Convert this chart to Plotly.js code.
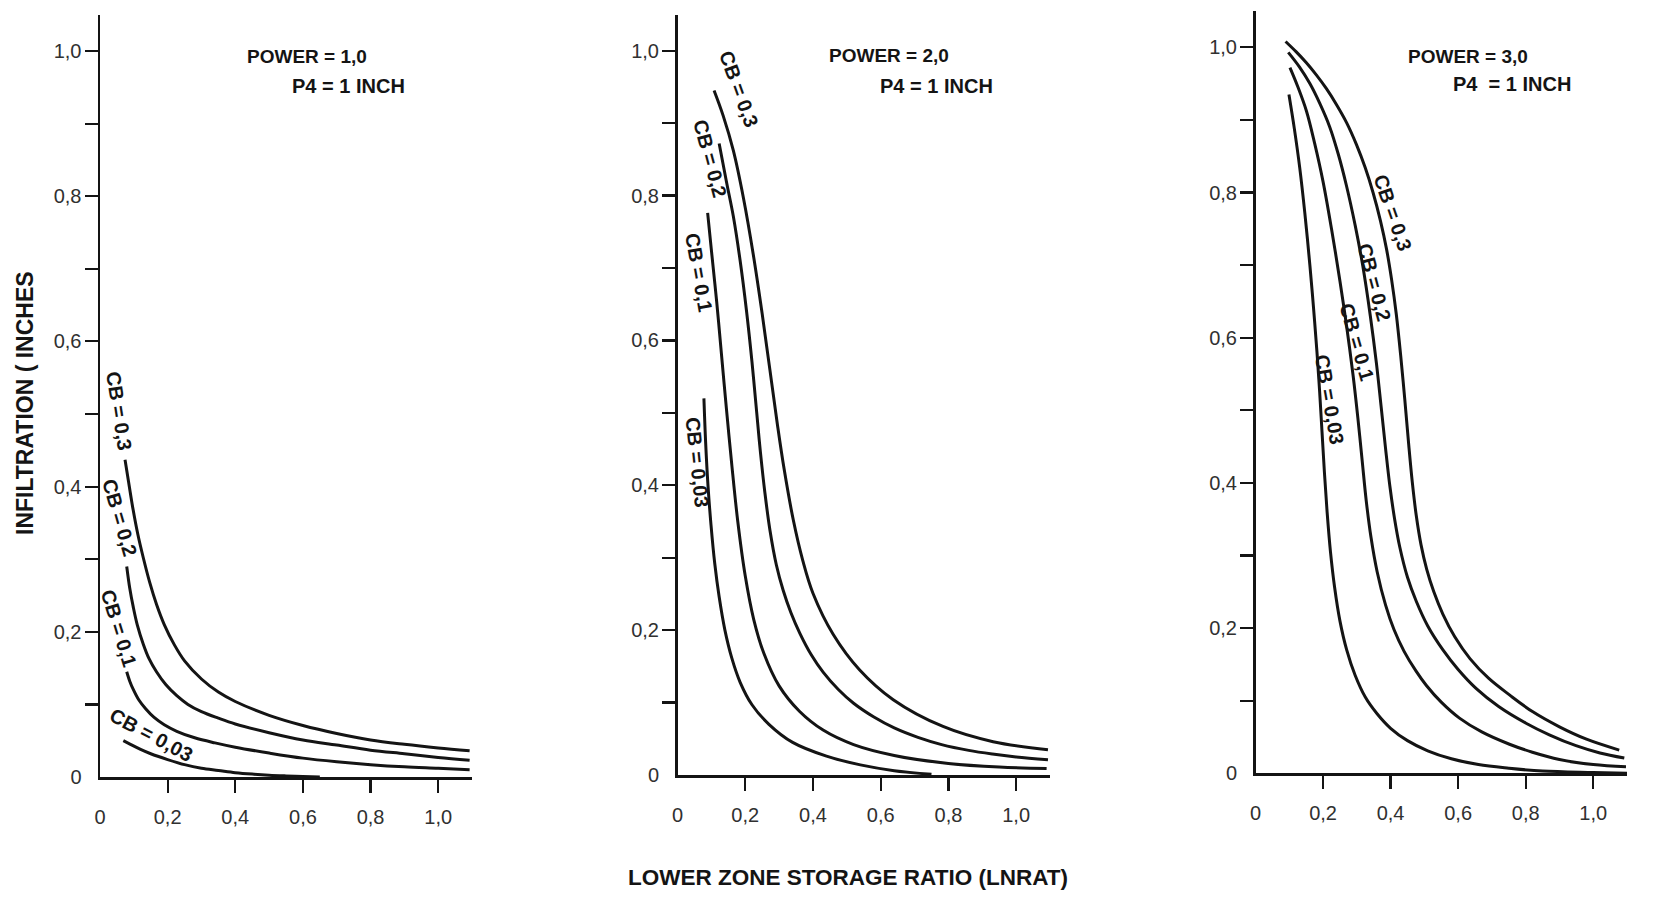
<!DOCTYPE html>
<html><head><meta charset="utf-8">
<script src="https://cdn.plot.ly/plotly-3.0.1.min.js"></script>
<style>html,body{margin:0;padding:0;background:#fff}#chart{width:1670px;height:900px}</style>
</head><body><div id="chart"></div>
<script>
// ---------- tick labels ----------
const tickVals = [0, 0.2, 0.4, 0.6, 0.8, 1.0];
const tickText = ["0", "0,2", "0,4", "0,6", "0,8", "1,0"];
const yTickMarks = [0.1, 0.2, 0.3, 0.4, 0.5, 0.6, 0.7, 0.8, 0.9, 1.0];
const xTickMarks = [0.2, 0.4, 0.6, 0.8, 1.0];

// ---------- labels ----------
const cbLabels = ["CB = 0,3", "CB = 0,2", "CB = 0,1", "CB = 0,03"];
const powerLabels = ["POWER = 1,0", "POWER = 2,0", "POWER = 3,0"];
const p4Labels = ["P4 = 1 INCH", "P4 = 1 INCH", "P4  = 1 INCH"];
const yTitle = "INFILTRATION ( INCHES";
const xTitle = "LOWER ZONE STORAGE RATIO (LNRAT)";

// ---------- POWER = 1,0 ----------
const p1_cb30_x = [0.074, 0.085, 0.098, 0.112, 0.128, 0.147, 0.167, 0.19, 0.22, 0.25, 0.3, 0.35, 0.4, 0.5, 0.6, 0.7, 0.8, 0.9, 1.0, 1.093];
const p1_cb30_y = [0.437, 0.405, 0.368, 0.334, 0.302, 0.268, 0.238, 0.21, 0.182, 0.16, 0.135, 0.117, 0.104, 0.085, 0.071, 0.06, 0.051, 0.045, 0.040, 0.036];
const p1_cb20_x = [0.079, 0.088, 0.098, 0.11, 0.128, 0.145, 0.167, 0.195, 0.227, 0.26, 0.3, 0.35, 0.4, 0.5, 0.6, 0.7, 0.8, 0.9, 1.0, 1.093];
const p1_cb20_y = [0.29, 0.26, 0.235, 0.21, 0.183, 0.163, 0.145, 0.127, 0.112, 0.1, 0.09, 0.081, 0.073, 0.061, 0.051, 0.044, 0.037, 0.032, 0.027, 0.023];
const p1_cb10_x = [0.079, 0.088, 0.098, 0.115, 0.135, 0.16, 0.19, 0.227, 0.28, 0.34, 0.4, 0.5, 0.6, 0.7, 0.8, 0.9, 1.0, 1.093];
const p1_cb10_y = [0.145, 0.132, 0.121, 0.106, 0.094, 0.082, 0.072, 0.063, 0.054, 0.047, 0.041, 0.033, 0.026, 0.021, 0.017, 0.014, 0.012, 0.010];
const p1_cb03_x = [0.069, 0.09, 0.12, 0.15, 0.2, 0.25, 0.3, 0.35, 0.4, 0.45, 0.5, 0.55, 0.6, 0.65];
const p1_cb03_y = [0.05, 0.045, 0.038, 0.032, 0.024, 0.017, 0.012, 0.009, 0.006, 0.004, 0.0025, 0.0015, 0.0007, 0.0];

// ---------- POWER = 2,0 ----------
const p2_cb30_x = [0.108, 0.135, 0.165, 0.195, 0.224, 0.25, 0.273, 0.295, 0.315, 0.342, 0.37, 0.4, 0.46, 0.538, 0.637, 0.784, 0.932, 1.094];
const p2_cb30_y = [0.945, 0.910, 0.862, 0.796, 0.718, 0.637, 0.559, 0.484, 0.422, 0.352, 0.296, 0.251, 0.194, 0.145, 0.104, 0.067, 0.046, 0.035];
const p2_cb20_x = [0.123, 0.145, 0.165, 0.185, 0.204, 0.22, 0.234, 0.245, 0.258, 0.273, 0.292, 0.312, 0.335, 0.361, 0.395, 0.43, 0.475, 0.52, 0.58, 0.64, 0.71, 0.78, 0.86, 0.93, 1.0, 1.094];
const p2_cb20_y = [0.872, 0.818, 0.771, 0.71, 0.64, 0.57, 0.5, 0.445, 0.39, 0.338, 0.29, 0.255, 0.224, 0.196, 0.166, 0.142, 0.118, 0.099, 0.08, 0.065, 0.052, 0.042, 0.034, 0.029, 0.025, 0.021];
const p2_cb10_x = [0.089, 0.1, 0.116, 0.13, 0.145, 0.16, 0.178, 0.2, 0.225, 0.255, 0.3, 0.36, 0.43, 0.52, 0.64, 0.8, 0.95, 1.09];
const p2_cb10_y = [0.776, 0.725, 0.652, 0.58, 0.503, 0.43, 0.35, 0.275, 0.215, 0.168, 0.123, 0.088, 0.062, 0.042, 0.027, 0.016, 0.011, 0.009];
const p2_cb03_x = [0.078, 0.083, 0.09, 0.099, 0.11, 0.123, 0.14, 0.16, 0.185, 0.22, 0.27, 0.34, 0.44, 0.54, 0.64, 0.75];
const p2_cb03_y = [0.52, 0.46, 0.40, 0.345, 0.292, 0.246, 0.2, 0.162, 0.128, 0.097, 0.07, 0.045, 0.026, 0.014, 0.006, 0.001];

// ---------- POWER = 3,0 ----------
const p3_cb30_x = [0.089, 0.12, 0.15, 0.18, 0.21, 0.24, 0.27, 0.299, 0.325, 0.348, 0.37, 0.388, 0.403, 0.417, 0.43, 0.442, 0.453, 0.464, 0.476, 0.49, 0.507, 0.528, 0.555, 0.59, 0.635, 0.69, 0.752, 0.82, 0.9, 0.98, 1.077];
const p3_cb30_y = [1.008, 0.994, 0.979, 0.962, 0.943, 0.921, 0.896, 0.866, 0.834, 0.8, 0.761, 0.722, 0.68, 0.632, 0.575, 0.515, 0.456, 0.402, 0.355, 0.315, 0.281, 0.25, 0.219, 0.188, 0.158, 0.131, 0.108, 0.085, 0.064, 0.047, 0.032];
const p3_cb20_x = [0.097, 0.13, 0.161, 0.19, 0.22, 0.245, 0.269, 0.295, 0.318, 0.34, 0.358, 0.372, 0.385, 0.398, 0.412, 0.427, 0.45, 0.476, 0.51, 0.555, 0.6, 0.653, 0.72, 0.801, 0.87, 0.949, 1.02, 1.092];
const p3_cb20_y = [0.993, 0.973, 0.95, 0.923, 0.89, 0.853, 0.81, 0.755, 0.698, 0.63, 0.565, 0.505, 0.448, 0.395, 0.35, 0.312, 0.27, 0.237, 0.203, 0.17, 0.143, 0.117, 0.092, 0.069, 0.053, 0.038, 0.028, 0.021];
const p3_cb10_x = [0.102, 0.125, 0.151, 0.175, 0.2, 0.225, 0.25, 0.27, 0.289, 0.303, 0.316, 0.328, 0.342, 0.36, 0.385, 0.41, 0.44, 0.475, 0.506, 0.55, 0.604, 0.67, 0.752, 0.82, 0.9, 1.0, 1.097];
const p3_cb10_y = [0.972, 0.946, 0.912, 0.868, 0.815, 0.75, 0.678, 0.615, 0.548, 0.49, 0.43, 0.375, 0.325, 0.278, 0.232, 0.198, 0.168, 0.141, 0.121, 0.098, 0.076, 0.057, 0.04, 0.029, 0.019, 0.012, 0.009];
const p3_cb03_x = [0.099, 0.115, 0.131, 0.146, 0.161, 0.172, 0.182, 0.19, 0.197, 0.204, 0.212, 0.222, 0.234, 0.25, 0.27, 0.295, 0.325, 0.36, 0.4, 0.45, 0.51, 0.58, 0.66, 0.75, 0.85, 1.0, 1.1];
const p3_cb03_y = [0.935, 0.888, 0.834, 0.772, 0.7, 0.64, 0.58, 0.525, 0.47, 0.415, 0.36, 0.305, 0.257, 0.21, 0.17, 0.135, 0.105, 0.082, 0.062, 0.045, 0.031, 0.02, 0.012, 0.007, 0.003, 0.001, 0.0];

const panels = [
  [[p1_cb30_x, p1_cb30_y], [p1_cb20_x, p1_cb20_y], [p1_cb10_x, p1_cb10_y], [p1_cb03_x, p1_cb03_y]],
  [[p2_cb30_x, p2_cb30_y], [p2_cb20_x, p2_cb20_y], [p2_cb10_x, p2_cb10_y], [p2_cb03_x, p2_cb03_y]],
  [[p3_cb30_x, p3_cb30_y], [p3_cb20_x, p3_cb20_y], [p3_cb10_x, p3_cb10_y], [p3_cb03_x, p3_cb03_y]]
];

const FONT = "Liberation Sans, Arial, Helvetica, sans-serif";
const INK = "#141414";
const axSuffix = ["", "2", "3"];

const traces = [];
panels.forEach((curves, p) => {
  curves.forEach((c) => {
    traces.push({
      x: c[0], y: c[1], type: "scatter", mode: "lines",
      xaxis: "x" + axSuffix[p], yaxis: "y" + axSuffix[p],
      line: {color: INK, width: 3, shape: "spline", smoothing: 1},
      hoverinfo: "skip", showlegend: false
    });
  });
});

// layout geometry (paper fractions)
const W = 1670, H = 900;
const xDomains = [[100 / W, 472 / W], [677.5 / W, 1050 / W], [1255.5 / W, 1627 / W]];
const yDomains = [[1 - 777 / H, 1 - 14.7 / H], [1 - 775 / H, 1 - 14.5 / H], [1 - 773.3 / H, 1 - 11 / H]];

const layout = {
  width: W, height: H,
  margin: {l: 0, r: 0, t: 0, b: 0},
  paper_bgcolor: "#ffffff", plot_bgcolor: "rgba(0,0,0,0)",
  showlegend: false,
  font: {family: FONT, color: INK},
  annotations: []
};

const tickFont = {family: FONT, size: 20, color: "#303030"};
for (let p = 0; p < 3; p++) {
  layout["xaxis" + axSuffix[p]] = {
    domain: xDomains[p], range: [0, 1.1], anchor: "y" + axSuffix[p],
    showgrid: false, zeroline: false, showline: true, linecolor: INK, linewidth: 2.5,
    tickmode: "array", tickvals: tickVals, ticktext: tickText, ticks: "",
    ticklabelstandoff: 20, tickfont: tickFont,
    minor: {tickmode: "array", tickvals: xTickMarks, ticks: "outside", ticklen: 13, tickwidth: 2.2, tickcolor: INK},
    fixedrange: true
  };
  layout["yaxis" + axSuffix[p]] = {
    domain: yDomains[p], range: [0, 1.05], anchor: "x" + axSuffix[p],
    showgrid: false, zeroline: false, showline: true, linecolor: INK, linewidth: 2.5,
    tickmode: "array", tickvals: tickVals, ticktext: tickText, ticks: "",
    ticklabelstandoff: 12, tickfont: tickFont,
    minor: {tickmode: "array", tickvals: yTickMarks, ticks: "outside", ticklen: 13, tickwidth: 2.2, tickcolor: INK},
    fixedrange: true
  };
}

// CB labels: [x, y, angle] per panel, data coordinates
const cbPos = [
  [[0.056, 0.504, 81], [0.059, 0.357, 74], [0.055, 0.205, 73], [0.152, 0.058, 28]],
  [[0.181, 0.947, 70], [0.096, 0.852, 75], [0.062, 0.694, 80], [0.058, 0.432, 84]],
  [[0.407, 0.772, 71], [0.352, 0.677, 75], [0.3, 0.594, 74], [0.218, 0.515, 80]]
];
const labelFont = {family: FONT, size: 20, color: INK, weight: "bold"};
for (let p = 0; p < 3; p++) {
  cbPos[p].forEach((pos, i) => {
    layout.annotations.push({
      xref: "x" + axSuffix[p], yref: "y" + axSuffix[p], x: pos[0], y: pos[1],
      text: cbLabels[i], textangle: pos[2], showarrow: false,
      xanchor: "center", yanchor: "middle", font: labelFont
    });
  });
}
const powerPos = [[0.428, 0.993, 0.561, 0.952], [0.441, 0.993, 0.592, 0.951], [0.445, 0.988, 0.578, 0.949]];
for (let p = 0; p < 3; p++) {
  const q = powerPos[p];
  layout.annotations.push({xref: "x" + axSuffix[p], yref: "y" + axSuffix[p], x: q[0], y: q[1], text: powerLabels[p],
    showarrow: false, xanchor: "left", yanchor: "middle", font: {family: FONT, size: 19, color: INK, weight: "bold"}});
  layout.annotations.push({xref: "x" + axSuffix[p], yref: "y" + axSuffix[p], x: q[2], y: q[3], text: p4Labels[p],
    showarrow: false, xanchor: "left", yanchor: "middle", font: {family: FONT, size: 20, color: INK, weight: "bold"}});
}
layout.annotations.push({xref: "paper", yref: "paper", x: 25 / W, y: 1 - 403 / H, text: yTitle, textangle: -90,
  showarrow: false, xanchor: "center", yanchor: "middle", font: {family: FONT, size: 23, color: INK, weight: "bold"}});
layout.annotations.push({xref: "paper", yref: "paper", x: 848 / W, y: 1 - 877 / H, text: xTitle,
  showarrow: false, xanchor: "center", yanchor: "middle", font: {family: FONT, size: 22.5, color: INK, weight: "bold"}});

Plotly.newPlot("chart", traces, layout, {staticPlot: true, displayModeBar: false});
</script>
</body></html>
